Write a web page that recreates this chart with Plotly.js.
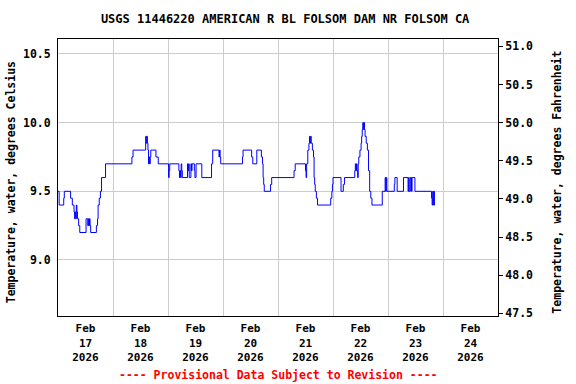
<!DOCTYPE html>
<html><head><meta charset="utf-8">
<script src="https://cdn.plot.ly/plotly-3.0.1.min.js"></script>
<style>html,body{margin:0;padding:0;background:#fff}</style>
</head><body><div id="chart" style="width:576px;height:384px"></div>
<script>
// Change points of the 15-minute series (step line, value holds until next time)
const times = [
 '2026-02-17 00:00','2026-02-17 00:30','2026-02-17 02:30','2026-02-17 02:45','2026-02-17 05:30','2026-02-17 06:15',
 '2026-02-17 07:00','2026-02-17 07:15','2026-02-17 07:30','2026-02-17 07:45','2026-02-17 08:00','2026-02-17 08:15',
 '2026-02-17 08:30','2026-02-17 09:00','2026-02-17 09:30','2026-02-17 12:15','2026-02-17 13:00','2026-02-17 13:15',
 '2026-02-17 13:30','2026-02-17 13:45','2026-02-17 14:00','2026-02-17 14:15','2026-02-17 16:45','2026-02-17 17:15',
 '2026-02-17 17:30','2026-02-17 18:00','2026-02-17 18:30','2026-02-17 19:00','2026-02-17 20:45',
 '2026-02-18 08:15','2026-02-18 08:45','2026-02-18 14:15','2026-02-18 14:30','2026-02-18 14:45','2026-02-18 15:00',
 '2026-02-18 15:15','2026-02-18 15:30','2026-02-18 15:45','2026-02-18 16:00','2026-02-18 16:15','2026-02-18 16:30',
 '2026-02-18 18:45','2026-02-18 19:45',
 '2026-02-19 00:15','2026-02-19 00:30','2026-02-19 00:45','2026-02-19 04:45','2026-02-19 05:00','2026-02-19 05:15',
 '2026-02-19 05:30','2026-02-19 05:45','2026-02-19 06:00','2026-02-19 06:15','2026-02-19 08:30','2026-02-19 08:45',
 '2026-02-19 09:00','2026-02-19 09:15','2026-02-19 10:00','2026-02-19 10:15','2026-02-19 10:30','2026-02-19 11:30',
 '2026-02-19 11:45','2026-02-19 12:15','2026-02-19 14:45','2026-02-19 19:00','2026-02-19 19:30','2026-02-19 22:15',
 '2026-02-19 22:30','2026-02-19 22:45','2026-02-19 23:00',
 '2026-02-20 08:30','2026-02-20 08:45','2026-02-20 12:30','2026-02-20 13:00','2026-02-20 14:45','2026-02-20 16:45',
 '2026-02-20 17:15','2026-02-20 17:30','2026-02-20 17:45','2026-02-20 18:00','2026-02-20 20:45','2026-02-20 21:15',
 '2026-02-21 07:00','2026-02-21 07:30','2026-02-21 12:00','2026-02-21 12:15','2026-02-21 12:30','2026-02-21 13:00',
 '2026-02-21 13:30','2026-02-21 13:45','2026-02-21 14:00','2026-02-21 14:15','2026-02-21 14:30','2026-02-21 15:00',
 '2026-02-21 15:30','2026-02-21 15:45','2026-02-21 16:00','2026-02-21 16:15','2026-02-21 16:45','2026-02-21 17:15',
 '2026-02-21 23:00','2026-02-21 23:30','2026-02-21 23:45',
 '2026-02-22 00:00','2026-02-22 03:30','2026-02-22 04:30','2026-02-22 05:00','2026-02-22 09:30','2026-02-22 09:45',
 '2026-02-22 10:00','2026-02-22 10:15','2026-02-22 10:30','2026-02-22 10:45','2026-02-22 11:00','2026-02-22 11:15',
 '2026-02-22 11:45','2026-02-22 12:15','2026-02-22 12:30','2026-02-22 12:45','2026-02-22 13:00','2026-02-22 13:15',
 '2026-02-22 13:30','2026-02-22 13:45','2026-02-22 14:00','2026-02-22 14:30','2026-02-22 15:00','2026-02-22 15:30',
 '2026-02-22 16:00','2026-02-22 16:30','2026-02-22 17:00','2026-02-22 21:30','2026-02-22 22:45','2026-02-22 23:00',
 '2026-02-22 23:15','2026-02-22 23:30',
 '2026-02-23 02:45','2026-02-23 03:00','2026-02-23 04:00','2026-02-23 06:45','2026-02-23 08:45','2026-02-23 09:00',
 '2026-02-23 09:15','2026-02-23 09:45','2026-02-23 10:15','2026-02-23 10:30','2026-02-23 11:45','2026-02-23 19:00',
 '2026-02-23 19:15','2026-02-23 19:30','2026-02-23 19:45','2026-02-23 20:00','2026-02-23 20:15','2026-02-23 20:30'
];
const tempC = [
 9.5,9.4,9.45,9.5,9.45,9.4,
 9.35,9.3,9.35,9.3,9.4,9.35,
 9.3,9.25,9.2,9.3,9.25,9.3,
 9.25,9.3,9.25,9.2,9.25,9.3,
 9.4,9.45,9.5,9.6,9.7,
 9.75,9.8,9.9,9.85,9.9,9.85,
 9.8,9.7,9.75,9.7,9.75,9.8,
 9.75,9.7,
 9.6,9.65,9.7,9.65,9.6,9.65,
 9.6,9.7,9.65,9.6,9.7,9.65,
 9.7,9.6,9.7,9.65,9.7,9.65,
 9.6,9.7,9.6,9.7,9.8,9.75,
 9.8,9.75,9.7,
 9.75,9.8,9.75,9.7,9.8,9.75,
 9.7,9.6,9.55,9.5,9.55,9.6,
 9.65,9.7,9.65,9.6,9.7,9.8,
 9.85,9.9,9.85,9.9,9.85,9.8,
 9.75,9.6,9.55,9.5,9.45,9.4,
 9.45,9.5,9.55,
 9.6,9.5,9.55,9.6,9.65,9.7,
 9.65,9.7,9.65,9.6,9.7,9.75,
 9.8,9.85,9.9,9.95,10.0,9.95,
 10.0,9.95,9.9,9.85,9.8,9.65,
 9.5,9.45,9.4,9.5,9.6,9.5,
 9.6,9.5,
 9.55,9.6,9.5,9.6,9.5,9.6,
 9.5,9.6,9.5,9.6,9.5,9.45,
 9.4,9.5,9.4,9.5,9.4,9.4
];
const dayTickTimes = ['2026-02-17 12:00','2026-02-18 12:00','2026-02-19 12:00','2026-02-20 12:00',
                      '2026-02-21 12:00','2026-02-22 12:00','2026-02-23 12:00','2026-02-24 12:00'];
const dayTickLabels = ['Feb<br>17<br>2026','Feb<br>18<br>2026','Feb<br>19<br>2026','Feb<br>20<br>2026',
                       'Feb<br>21<br>2026','Feb<br>22<br>2026','Feb<br>23<br>2026','Feb<br>24<br>2026'];
const xRange = ['2026-02-17 00:00','2026-02-25 00:00'];
const celsiusTicks = [9.0, 9.5, 10.0, 10.5];
const fahrenheitTicks = [47.5, 48.0, 48.5, 49.0, 49.5, 50.0, 50.5, 51.0];
const celsiusRange = [8.592, 10.609];
const fahrenheitRange = celsiusRange.map(c => c * 1.8 + 32);

const mono = 'DejaVu Sans Mono, monospace';
const traces = [
  {x: times, y: tempC, type: 'scatter', mode: 'lines',
   line: {color: '#0000ff', width: 1, shape: 'hv'}, hoverinfo: 'skip', showlegend: false},
  // empty trace so the Fahrenheit axis exists
  {x: [], y: [], type: 'scatter', mode: 'lines', yaxis: 'y2', hoverinfo: 'skip', showlegend: false}
];
const layout = {
  width: 576, height: 384,
  margin: {l: 58, r: 78, t: 39, b: 68},
  paper_bgcolor: '#ffffff', plot_bgcolor: '#ffffff',
  showlegend: false,
  title: {text: 'USGS 11446220 AMERICAN R BL FOLSOM DAM NR FOLSOM CA',
          font: {family: mono, size: 12, weight: 'bold', color: '#000'},
          x: 0.495, xref: 'container', xanchor: 'center', y: 0.95, yref: 'container', yanchor: 'middle'},
  xaxis: {
    type: 'date', range: xRange,
    tickmode: 'array', tickvals: dayTickTimes, ticktext: dayTickLabels,
    ticks: '', showgrid: false, zeroline: false,
    showline: true, linecolor: '#000', linewidth: 1, mirror: true,
    tickfont: {family: mono, size: 11, weight: 'bold', color: '#000'},
    ticklabelstandoff: 2,
    minor: {dtick: 86400000, tick0: '2026-02-17 00:00', showgrid: true, gridcolor: '#cccccc', gridwidth: 1, ticks: ''}
  },
  yaxis: {
    range: celsiusRange, tickmode: 'array', tickvals: celsiusTicks,
    tickformat: '.1f', ticks: '', showgrid: true, gridcolor: '#cccccc', gridwidth: 1,
    zeroline: false, showline: true, linecolor: '#000', linewidth: 1, mirror: true,
    tickfont: {family: mono, size: 11.5, weight: 'bold', color: '#000'},
    ticklabelstandoff: 4
  },
  yaxis2: {
    overlaying: 'y', side: 'right', range: fahrenheitRange, autorange: false,
    tickmode: 'array', tickvals: fahrenheitTicks, tickformat: '.1f',
    ticks: 'outside', ticklen: 4, tickcolor: '#000', showgrid: false, zeroline: false,
    showline: true, linecolor: '#000', linewidth: 1,
    tickfont: {family: mono, size: 11.5, weight: 'bold', color: '#000'}
  },
  annotations: [
    {text: 'Temperature, water, degrees Celsius', textangle: -90, showarrow: false,
     xref: 'paper', yref: 'paper', x: -0.106, y: 0.484, xanchor: 'center', yanchor: 'middle',
     font: {family: mono, size: 11.5, weight: 'bold', color: '#000'}},
    {text: 'Temperature, water, degrees Fahrenheit', textangle: -90, showarrow: false,
     xref: 'paper', yref: 'paper', x: 1.1334, y: 0.484, xanchor: 'center', yanchor: 'middle',
     font: {family: mono, size: 11.5, weight: 'bold', color: '#000'}},
    {text: '---- Provisional Data Subject to Revision ----', showarrow: false,
     xref: 'paper', yref: 'paper', x: 0.5, y: -0.213, xanchor: 'center', yanchor: 'middle',
     font: {family: mono, size: 11.5, weight: 'bold', color: '#ff0000'}}
  ]
};
Plotly.newPlot('chart', traces, layout, {staticPlot: true, displayModeBar: false});
</script>
</body></html>
